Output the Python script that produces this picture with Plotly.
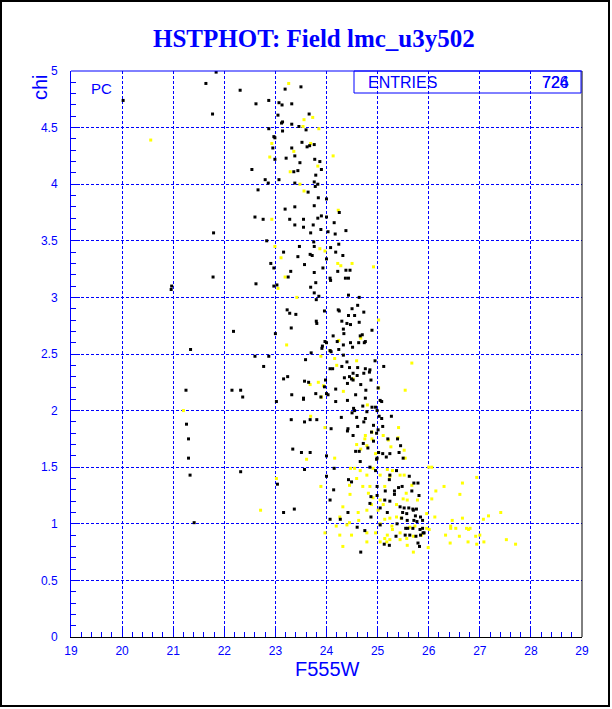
import plotly.graph_objects as go

# ---- data (F555W magnitude, chi) ----
black_x = [
    21.84, 21.64, 20.02, 21.77, 21.79, 21.78, 20.96, 20.97, 21.34, 21.25, 21.26, 21.30, 21.30, 21.33, 21.41,
    22.31, 23.50, 23.19, 22.87, 22.62, 23.07, 23.13, 23.32, 23.66, 23.05, 23.14, 23.12, 23.32, 23.46, 22.87,
    23.60, 23.14, 22.97, 22.99, 23.52, 23.67, 23.76, 22.95, 23.32, 23.62, 23.38, 22.99, 23.21, 23.77, 23.87,
    23.48, 22.54, 23.90, 23.44, 23.36, 23.79, 22.80, 22.86, 23.07, 23.38, 23.76, 23.83, 23.78, 22.66, 23.64,
    23.84, 24.00, 23.76, 23.19, 22.60, 22.76, 23.38, 24.25, 24.00, 23.83, 23.90, 23.28, 23.55, 23.55, 23.38,
    23.74, 24.15, 23.89, 24.03, 24.17, 24.38, 23.69, 22.83, 23.75, 23.76, 23.47, 23.16, 24.08, 24.24, 24.18,
    23.44, 23.68, 23.72, 23.57, 24.00, 24.32, 22.91, 22.97, 23.30, 23.76, 23.93, 24.22, 24.38, 24.46, 24.43,
    24.37, 23.25, 24.07,
    22.62, 22.97, 23.03, 23.79, 23.69, 23.76, 23.85, 23.80, 24.43, 24.64, 24.08, 23.23, 23.28, 23.40, 23.96,
    24.23, 24.25, 24.50, 24.61, 24.43, 24.55, 24.73, 24.30, 24.40, 24.47, 24.64, 23.80, 23.81, 23.31, 24.33,
    24.89, 22.18, 23.00, 24.13, 24.34, 24.66, 24.70, 23.97, 24.00, 23.92, 23.91, 24.21, 24.33, 24.47, 24.63,
    24.76, 24.74, 24.51, 24.24, 24.09, 24.07, 23.70, 22.60, 22.87, 24.33, 24.40, 23.59, 24.95, 22.77, 24.07,
    24.12, 24.30, 24.45, 24.61, 24.76, 24.85, 24.84, 25.12, 24.52, 24.60, 24.73, 24.35, 24.45, 23.24, 23.16,
    23.98, 24.49, 24.52, 24.87, 23.57, 23.65, 23.96, 24.41, 24.67, 25.01, 22.15, 22.32, 22.36, 23.32, 23.79,
    24.18, 24.77, 23.55, 23.55, 23.89, 24.00, 24.03, 24.57, 24.76, 24.41, 24.18, 23.02, 24.53, 24.55, 24.71,
    24.89, 24.96, 25.05, 25.08, 24.99, 24.79, 24.50, 23.31, 23.68, 23.81, 24.29, 24.76, 24.59, 25.03, 25.08,
    23.57, 24.73, 24.92, 25.27, 24.42, 24.41, 24.61, 24.09, 25.10, 24.88, 25.01, 24.98, 25.20, 24.52, 24.92,
    24.72, 24.81, 24.64, 24.57, 25.02, 25.39, 25.42, 25.45, 25.10, 25.24, 23.51, 23.68, 23.34, 24.00, 24.99,
    24.98, 25.17, 25.50,
    23.57, 24.00, 24.15, 24.66, 24.85, 24.96, 25.24, 25.37, 24.43, 24.49, 25.23, 25.62, 25.71, 25.79, 24.14,
    24.99, 25.15, 25.41, 25.48, 25.67, 25.33, 25.33, 25.81, 24.87, 24.99, 24.07, 25.14, 25.24, 24.85, 25.05,
    25.44, 25.52, 25.61, 25.69, 25.70, 25.76, 24.42, 25.49, 25.19, 25.57, 25.74, 25.84, 24.87, 24.27, 24.07,
    25.47, 25.58, 25.71, 25.77, 25.88, 25.38, 25.55, 25.59, 25.05, 24.60, 24.75, 25.69, 25.83, 25.88, 25.36,
    25.54, 25.63, 25.75, 25.84, 25.91, 25.89, 25.13, 25.23, 25.79, 25.82, 24.67,
    22.32, 23.04, 23.37, 23.16,
]
black_y = [
    4.99, 4.89, 4.74, 4.62, 3.57, 3.18, 3.07, 3.10, 2.54, 2.18, 1.88, 1.75, 1.58, 1.43, 1.01,
    4.83, 4.86, 4.84, 4.74, 4.71, 4.72, 4.70, 4.71, 4.62, 4.61, 4.55, 4.54, 4.53, 4.51, 4.49,
    4.48, 4.47, 4.42, 4.41, 4.37, 4.34, 4.35, 4.32, 4.32, 4.33, 4.25, 4.22, 4.23, 4.22, 4.20,
    4.19, 4.13, 4.13, 4.12, 4.11, 4.08, 4.04, 4.01, 4.04, 4.01, 4.02, 4.00, 3.98, 3.95, 3.93,
    3.88, 3.87, 3.81, 3.78, 3.71, 3.69, 3.80, 3.75, 3.71, 3.70, 3.72, 3.69, 3.69, 3.62, 3.64,
    3.64, 3.66, 3.60, 3.58, 3.56, 3.59, 3.57, 3.50, 3.49, 3.45, 3.45, 3.40, 3.44, 3.47, 3.40,
    3.36, 3.38, 3.37, 3.29, 3.34, 3.37, 3.30, 3.26, 3.23, 3.22, 3.26, 3.23, 3.24, 3.24, 3.17,
    3.17, 3.18, 3.17,
    3.12, 3.10, 3.11, 3.13, 3.09, 3.04, 3.01, 2.98, 3.02, 3.00, 3.15, 2.89, 2.86, 2.85, 2.88,
    2.89, 2.88, 2.90, 2.93, 2.84, 2.84, 2.87, 2.79, 2.77, 2.76, 2.78, 2.79, 2.77, 2.73, 2.72,
    2.71, 2.70, 2.68, 2.66, 2.68, 2.66, 2.67, 2.61, 2.60, 2.57, 2.55, 2.61, 2.58, 2.60, 2.60,
    2.61, 2.60, 2.56, 2.54, 2.52, 2.53, 2.51, 2.48, 2.48, 2.49, 2.43, 2.45, 2.44, 2.39, 2.37,
    2.37, 2.39, 2.38, 2.38, 2.37, 2.36, 2.34, 2.39, 2.33, 2.31, 2.33, 2.29, 2.30, 2.30, 2.28,
    2.27, 2.28, 2.27, 2.27, 2.26, 2.25, 2.21, 2.24, 2.23, 2.20, 2.18, 2.18, 2.12, 2.14, 2.15,
    2.19, 2.18, 2.11, 2.10, 2.12, 2.15, 2.14, 2.14, 2.11, 2.09, 2.08, 2.08, 2.02, 2.00, 2.04,
    2.03, 2.03, 2.09, 2.08, 2.00, 1.99, 1.98, 1.92, 1.92, 1.92, 1.94, 1.93, 1.94, 1.95, 1.93,
    1.90, 1.90, 1.87, 1.95, 1.84, 1.82, 1.86, 1.84, 1.86, 1.81, 1.83, 1.80, 1.75, 1.78, 1.73,
    1.71, 1.67, 1.64, 1.64, 1.63, 1.75, 1.63, 1.69, 1.62, 1.62, 1.63, 1.63, 1.66, 1.60, 1.58,
    1.57, 1.59, 1.58,
    1.48, 1.42, 1.49, 1.55, 1.50, 1.47, 1.43, 1.47, 1.39, 1.37, 1.39, 1.42, 1.36, 1.36, 1.30,
    1.33, 1.29, 1.32, 1.33, 1.29, 1.29, 1.26, 1.25, 1.24, 1.25, 1.21, 1.21, 1.20, 1.18, 1.14,
    1.15, 1.14, 1.14, 1.13, 1.12, 1.13, 1.10, 1.10, 1.10, 1.09, 1.07, 1.06, 1.06, 1.04, 1.04,
    1.05, 1.03, 1.03, 1.02, 1.03, 1.00, 0.96, 0.96, 0.99, 0.97, 0.94, 0.96, 0.95, 0.96, 0.89,
    0.90, 0.90, 0.89, 0.90, 0.92, 0.92, 0.82, 0.81, 0.83, 0.80, 0.75,
    1.46, 1.35, 1.13, 1.10,
]

yellow_x = [
    20.56, 21.20,
    23.26, 23.73, 23.56, 23.54, 23.85, 22.93, 23.69, 23.36, 22.89, 24.13, 23.83, 23.29, 23.48, 23.56,
    22.93, 24.23, 22.99, 23.11, 23.87, 23.97, 24.22, 24.28, 24.50, 23.19,
    23.05, 23.42, 25.02, 24.24, 24.67, 23.22, 24.07, 23.89, 24.16, 24.59, 25.67, 24.20, 24.52, 23.84,
    23.68, 23.94, 25.02, 25.54, 24.33, 23.90, 24.80, 23.69, 23.97, 25.41, 24.89, 24.76, 25.11, 24.89,
    25.40, 24.75, 25.21, 24.59, 24.79, 25.26, 24.67, 25.52, 24.16, 23.61, 24.96, 25.54,
    24.47, 24.55, 24.66, 24.79, 24.91, 25.19, 25.29, 26.00, 26.06, 25.05, 25.24, 25.44, 25.52, 24.59,
    26.94, 26.66, 23.89, 24.45, 24.71, 24.85, 25.14, 25.67, 26.30, 26.14, 24.46, 24.82, 25.56, 26.61,
    24.91, 25.05, 25.50, 25.58, 26.06, 25.78, 24.88, 25.11, 25.37, 24.32, 24.79, 25.01, 24.62, 27.41,
    27.17, 27.07, 24.26, 24.63, 25.14, 25.24, 25.37, 25.46, 25.96, 26.12, 26.46, 26.66, 24.45, 24.19,
    24.40, 25.05, 25.28, 25.29, 25.63, 25.73, 25.96, 26.01, 26.43, 26.43, 26.53, 26.74, 26.81, 26.78,
    23.97, 24.26, 24.49, 24.79, 24.96, 25.19, 25.44, 25.70, 25.86, 26.33, 26.92, 27.00, 26.60, 25.14,
    25.57, 25.18, 25.24, 25.44, 24.79, 26.42, 26.77, 26.94, 27.08, 27.52, 27.70, 24.32, 25.05, 25.70,
    25.99, 25.58,
    24.92, 23.02, 22.71,
]
yellow_y = [
    4.39, 2.00,
    4.89, 4.59, 4.57, 4.51, 4.49, 4.36, 4.36, 4.29, 4.24, 4.25, 4.16, 4.11, 4.00, 3.94,
    3.69, 3.77, 3.45, 3.35, 3.43, 3.41, 3.30, 3.28, 3.30, 3.18,
    3.08, 3.00, 2.80, 2.62, 2.64, 2.58, 2.53, 2.48, 2.46, 2.44, 2.42, 2.40, 2.28, 2.25,
    2.23, 2.22, 2.20, 2.18, 2.17, 2.12, 2.05, 1.95, 1.85, 1.85, 1.81, 1.78, 1.78, 1.75,
    1.76, 1.75, 1.74, 1.70, 1.69, 1.68, 1.66, 1.65, 1.58, 1.57, 1.62, 1.58,
    1.49, 1.49, 1.47, 1.43, 1.49, 1.48, 1.47, 1.50, 1.50, 1.43, 1.42, 1.43, 1.43, 1.40,
    1.41, 1.36, 1.33, 1.34, 1.33, 1.33, 1.33, 1.34, 1.33, 1.29, 1.26, 1.27, 1.27, 1.26,
    1.23, 1.21, 1.22, 1.21, 1.22, 1.21, 1.17, 1.17, 1.17, 1.15, 1.12, 1.12, 1.10, 1.10,
    1.07, 1.04, 1.06, 1.03, 1.04, 1.05, 1.06, 1.05, 1.09, 1.06, 1.03, 1.05, 1.01, 0.98,
    0.99, 1.00, 0.98, 0.95, 0.97, 0.98, 0.96, 0.95, 0.98, 0.96, 0.96, 0.96, 0.96, 0.95,
    0.92, 0.90, 0.90, 0.92, 0.92, 0.90, 0.92, 0.89, 0.90, 0.90, 0.89, 0.90, 0.89, 0.87,
    0.87, 0.84, 0.86, 0.86, 0.84, 0.83, 0.84, 0.82, 0.84, 0.86, 0.82, 0.80, 0.84, 0.75,
    0.79, 0.81,
    3.27, 1.40, 1.12,
]

title_text = "HSTPHOT: Field lmc_u3y502"
x_title = "F555W"
y_title = "chi"
stats_label = "ENTRIES"
stats_values = ["724", "726"]
option_label = "PC"

BLUE = "#0000FF"
FONT = "Liberation Sans"

# plot area in pixels: x 71..582, y 71..637 on a 612x709 canvas
L, R, T, B = 71, 30, 71, 72
W, H = 612, 709
PW, PH = W - L - R, H - T - B


def px(xp):
    return (xp - L) / PW


def py(yp):
    return (H - B - yp) / PH


fig = go.Figure()
fig.add_trace(go.Scatter(x=yellow_x, y=yellow_y, mode="markers",
                         marker=dict(symbol="square", size=3, color="#FFFF00", line=dict(width=0)),
                         showlegend=False, hoverinfo="skip"))
fig.add_trace(go.Scatter(x=black_x, y=black_y, mode="markers",
                         marker=dict(symbol="square", size=3, color="#000000", line=dict(width=0)),
                         showlegend=False, hoverinfo="skip"))

axis_common = dict(
    ticks="inside", ticklen=9, tickwidth=1, tickcolor=BLUE,
    showgrid=True, gridcolor=BLUE, gridwidth=1, griddash="3px,2px",
    zeroline=False, showline=True, linewidth=1,
    tickfont=dict(family=FONT, size=12, color=BLUE),
)

fig.update_xaxes(range=[19, 29], tick0=19, dtick=1, linecolor="#000000",
                 minor=dict(dtick=0.2, ticks="inside", ticklen=5, tickcolor=BLUE, showgrid=False),
                 ticklabelstandoff=3, **axis_common)
fig.update_yaxes(range=[0, 5], tick0=0, dtick=0.5, linecolor=BLUE,
                 minor=dict(dtick=0.1, ticks="inside", ticklen=5, tickcolor=BLUE, showgrid=False),
                 ticklabelstandoff=10, **axis_common)

shapes = [
    # outer canvas frame
    dict(type="rect", xref="paper", yref="paper", x0=px(1), x1=px(609), y0=py(706), y1=py(1),
         line=dict(color="#000000", width=2)),
    # top and right frame of the plot
    dict(type="line", xref="paper", yref="paper", x0=0, x1=1, y0=1, y1=1,
         line=dict(color=BLUE, width=1)),
    dict(type="line", xref="paper", yref="paper", x0=1, x1=1, y0=0, y1=1,
         line=dict(color="#000000", width=1)),
    # stats box
    dict(type="rect", xref="paper", yref="paper", x0=px(354), x1=px(581), y0=py(93), y1=1,
         line=dict(color=BLUE, width=1)),
]

annotations = [
    dict(text="<b>" + title_text + "</b>", xref="paper", yref="paper", x=px(314), y=py(38),
         xanchor="center", yanchor="middle", showarrow=False,
         font=dict(family="Liberation Serif", size=25, color=BLUE)),
    dict(text=x_title, xref="paper", yref="paper", x=px(327), y=py(669),
         xanchor="center", yanchor="middle", showarrow=False,
         font=dict(family=FONT, size=20, color=BLUE)),
    dict(text=y_title, xref="paper", yref="paper", x=px(40), y=py(72),
         xanchor="center", yanchor="top", textangle=-90, showarrow=False,
         font=dict(family=FONT, size=20, color=BLUE)),
    dict(text=option_label, xref="paper", yref="paper", x=px(89), y=py(88),
         xanchor="left", yanchor="middle", showarrow=False,
         font=dict(family=FONT, size=15, color=BLUE)),
    dict(text=stats_label, xref="paper", yref="paper", x=px(366), y=py(82),
         xanchor="left", yanchor="middle", showarrow=False,
         font=dict(family=FONT, size=16, color=BLUE)),
]
for v in stats_values:
    annotations.append(dict(text=v, xref="paper", yref="paper", x=px(571), y=py(82),
                            xanchor="right", yanchor="middle", showarrow=False,
                            font=dict(family=FONT, size=16, color=BLUE)))

fig.update_layout(
    width=W, height=H,
    margin=dict(l=L, r=R, t=T, b=B, pad=0),
    paper_bgcolor="#FFFFFF", plot_bgcolor="#FFFFFF",
    shapes=shapes, annotations=annotations,
    showlegend=False,
)

fig.write_html("out.html", config={"displayModeBar": False},
               post_script="document.body.style.margin='0';document.body.style.padding='0';")
